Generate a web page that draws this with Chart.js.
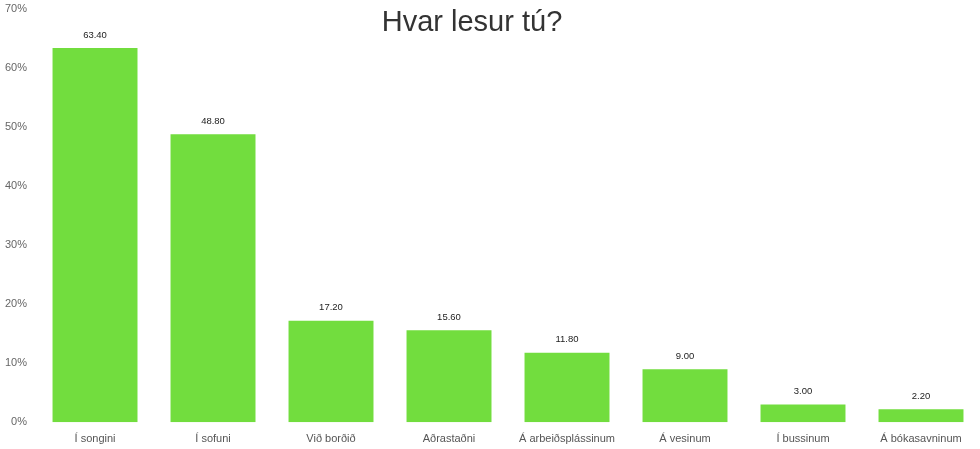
<!DOCTYPE html>
<html>
<head>
<meta charset="utf-8">
<script src="https://cdn.jsdelivr.net/npm/chart.js@4"></script>
<style>
  html, body { margin: 0; padding: 0; background: #fff; }
  #wrap { position: relative; width: 980px; height: 449px; }
</style>
</head>
<body>
<div id="wrap"><canvas id="chart"></canvas></div>
<script>
// Data
const categories = ['Í songini', 'Í sofuni', 'Við borðið', 'Aðrastaðni', 'Á arbeiðsplássinum', 'Á vesinum', 'Í bussinum', 'Á bókasavninum'];
const shares = [63.4, 48.8, 17.2, 15.6, 11.8, 9.0, 3.0, 2.2];
const yTicks = [0, 10, 20, 30, 40, 50, 60, 70];
const chartTitle = 'Hvar lesur tú?';

const FONT = '"Liberation Sans", Arial, Helvetica, sans-serif';

// title drawn over the plot, like the original
const titlePlugin = {
    id: 'overlayTitle',
    afterDraw(chart) {
        const ctx = chart.ctx;
        ctx.save();
        ctx.fillStyle = '#333';
        ctx.font = '29px ' + FONT;
        ctx.textAlign = 'center';
        ctx.textBaseline = 'alphabetic';
        ctx.fillText(chartTitle, 472, 31);
        ctx.restore();
    }
};

// value labels above each bar
const valueLabels = {
    id: 'valueLabels',
    afterDatasetsDraw(chart) {
        const ctx = chart.ctx;
        const meta = chart.getDatasetMeta(0);
        ctx.save();
        ctx.fillStyle = '#222';
        ctx.font = '9.5px ' + FONT;
        ctx.textAlign = 'center';
        ctx.textBaseline = 'middle';
        meta.data.forEach((bar, i) => {
            ctx.fillText(shares[i].toFixed(2), bar.x, bar.y - 13);
        });
        ctx.restore();
    }
};

new Chart(document.getElementById('chart').getContext('2d'), {
    type: 'bar',
    data: {
        labels: categories,
        datasets: [{
            data: shares,
            backgroundColor: '#72DD3E',
            borderWidth: 0
        }]
    },
    options: {
        responsive: true,
        maintainAspectRatio: false,
        animation: false,
        layout: { padding: { left: -4, right: 0, top: 9, bottom: -6.5 } },
        plugins: {
            legend: { display: false },
            tooltip: { enabled: false }
        },
        scales: {
            x: {
                grid: { display: false, drawTicks: false },
                border: { display: false },
                ticks: { color: '#555', font: { family: FONT, size: 11 }, padding: 10, maxRotation: 0 }
            },
            y: {
                min: yTicks[0],
                max: yTicks[yTicks.length - 1],
                afterBuildTicks(scale) { scale.ticks = yTicks.map(v => ({ value: v })); },
                // let the top label sit at the very edge, as in the original
                afterFit(scale) { scale.paddingTop = 0; scale.paddingBottom = 0; },
                grid: { display: false, drawTicks: false },
                border: { display: false },
                ticks: { color: '#666', font: { family: FONT, size: 11 }, padding: 9, callback: v => v + '%' }
            }
        }
    },
    plugins: [valueLabels, titlePlugin]
});
</script>
</body>
</html>
